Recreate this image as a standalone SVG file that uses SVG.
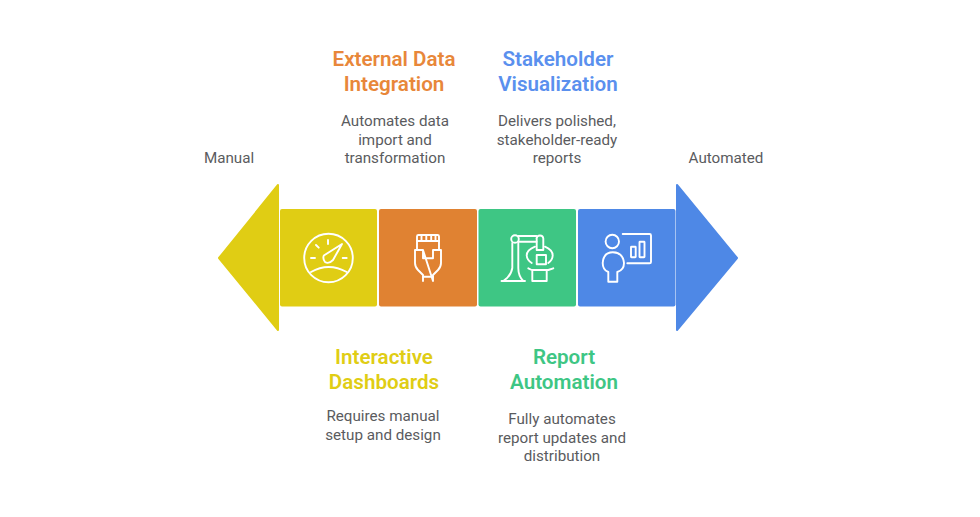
<svg xmlns="http://www.w3.org/2000/svg" width="980" height="517" viewBox="0 0 980 517">
<style>
text{font-family:Roboto,"Liberation Sans",sans-serif;text-anchor:middle}
.t{font-size:20.600px;font-weight:600}
.d{font-size:15.200px;fill:#5a5b5e}
.i{fill:none;stroke:#fff;stroke-width:1.900;stroke-linecap:round;stroke-linejoin:round}
</style>
<rect width="980" height="517" fill="#fff"/>
<g id="left-arrow"><path d="M278 185V330L219 258Z" fill="#e0cd14" stroke="#e0cd14" stroke-width="2" stroke-linejoin="round"/><text class="d" x="229" y="163">Manual</text></g>
<g id="right-arrow"><path d="M677 185V330L737 258Z" fill="#4e88e6" stroke="#4e88e6" stroke-width="2" stroke-linejoin="round"/><text class="d" x="726" y="163">Automated</text></g>
<g id="connectors"/>
<g id="interactive-dashboards">
<rect x="280" y="209" width="97" height="97.500" rx="2" fill="#e0cd14"/>
<g class="i"><circle cx="328.500" cy="258" r="24.300"/><path d="M311 272Q328.500 262 346.700 272"/><path d="M323.800 255.500L342 244L333 260Q328.500 264.500 325 262Q322.500 259 323.800 255.500Z"/><path d="M328 240V244M316 245L318.700 247.700M311 258H315M342.700 258H346.700"/></g>
<text class="t" fill="#e0cd14" x="384" y="364">Interactive</text><text class="t" fill="#e0cd14" x="384" y="389">Dashboards</text>
<text class="d" x="383" y="421">Requires manual</text><text class="d" x="383" y="440">setup and design</text>
</g>
<g id="external-data-integration">
<rect x="379" y="209" width="98" height="97.500" rx="2" fill="#e08232"/>
<g class="i"><path d="M417 250V236.500Q417 235 418.500 235H437.500Q439 235 439 236.500V250"/><path d="M417 241H439M421.500 235V241M426.300 235V241M431.200 235V241M435.500 235V241"/><path d="M423 250H415V263Q415 267 418 270L423 275V281M433 281V275L438 270Q441 267 441 263V250H433V258.300H423V250Z"/><path d="M423 276.700H433"/></g>
<text class="t" fill="#e8873a" x="394" y="66">External Data</text><text class="t" fill="#e8873a" x="394" y="91">Integration</text>
<text class="d" x="395" y="126">Automates data</text><text class="d" x="395" y="145">import and</text><text class="d" x="395" y="163">transformation</text>
</g>
<g id="report-automation">
<rect x="478.500" y="209" width="97.500" height="97.500" rx="2" fill="#3ec684"/>
<g class="i"><circle cx="515" cy="239" r="3.800"/><path d="M518.300 236H536.500M518.300 241.700H536.500"/><path d="M512.300 243V268Q511 276 503.300 281H523.300Q518.300 276 518.300 268V243"/><path d="M501.500 281H525"/><path d="M536.500 238.500Q537 235.500 540 235.500Q543 235.500 543.300 238.500V250H536.700V238.500Z"/><path d="M535 246.700Q526.700 250 526.700 255.500Q527 260 531.700 263M545 246.700Q552.700 250 552.700 255.500Q552.500 260 548.300 263"/><rect x="536.700" y="255" width="9.300" height="9.300"/><path d="M528.300 268.300L531.700 270H548.300L553.300 268.300M532.300 270V281H546.700V270"/></g>
<text class="t" fill="#3ec684" x="564" y="364">Report</text><text class="t" fill="#3ec684" x="564" y="389">Automation</text>
<text class="d" x="562" y="424">Fully automates</text><text class="d" x="562" y="443">report updates and</text><text class="d" x="562" y="461">distribution</text>
</g>
<g id="stakeholder-visualization">
<rect x="578" y="209" width="97.500" height="97.500" rx="2" fill="#4e88e6"/>
<g class="i"><circle cx="612.300" cy="241.500" r="6.700"/><path d="M608.300 281.700V272Q602.700 270 602.700 263Q603.500 252.300 612.800 252.300Q623 252.500 624 263Q624 270 617.300 272V281.700Z"/><path d="M622.700 234H649.500Q651 234 651 235.500V262Q651 263.300 649.500 263.300H627.300"/><rect x="631" y="246.700" width="4.700" height="10.600" rx="0.500"/><rect x="639.500" y="241.700" width="5" height="15.600" rx="0.500"/></g>
<text class="t" fill="#5a90ee" x="558" y="66">Stakeholder</text><text class="t" fill="#5a90ee" x="558" y="91">Visualization</text>
<text class="d" x="557" y="126">Delivers polished,</text><text class="d" x="557" y="145">stakeholder-ready</text><text class="d" x="557" y="163">reports</text>
</g>
</svg>
